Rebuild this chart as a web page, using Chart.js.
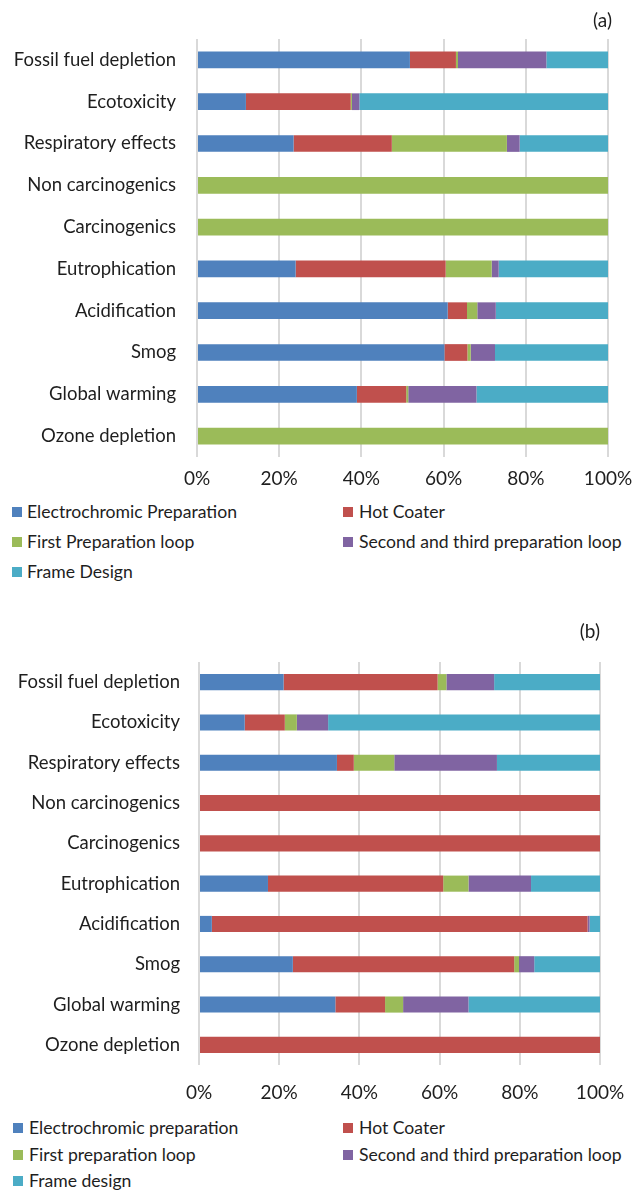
<!DOCTYPE html>
<html>
<head>
<meta charset="utf-8">
<title>Impact contribution by process stage</title>
<script src="https://cdn.jsdelivr.net/npm/chart.js@4.4.1/dist/chart.umd.min.js"></script>
<style>
    body {
        margin: 0;
        background: #fff;
        font-family: Lato, "Liberation Sans", sans-serif;
        color: #1e1e1e;
    }
    .page {
        position: relative;
        width: 633px;
        height: 1190px;
        overflow: hidden;
    }
    .panel {
        position: absolute;
        left: 0;
        width: 633px;
    }
    .panel-tag {
        position: absolute;
        font-size: 19px;
        line-height: 22px;
    }
    .legend-item {
        position: absolute;
        font-size: 17.6px;
        line-height: 22px;
        white-space: nowrap;
    }
    .legend-swatch {
        position: absolute;
        width: 10px;
        height: 10px;
        top: 6px;
    }
</style>
</head>
<body>
<div class="page" id="page">
    <div class="panel" style="top:0;height:495px"><canvas id="chartA"></canvas></div>
    <div class="panel" style="top:600px;height:500px"><canvas id="chartB"></canvas></div>
    <div class="panel-tag" style="top:9px;right:21px">(a)</div>
    <div class="panel-tag" style="top:620px;right:33px">(b)</div>
</div>

<script>
// Impact categories (top to bottom)
const impactCategories = [
    'Fossil fuel depletion',
    'Ecotoxicity',
    'Respiratory effects',
    'Non carcinogenics',
    'Carcinogenics',
    'Eutrophication',
    'Acidification',
    'Smog',
    'Global warming',
    'Ozone depletion'
];

// Process stage names, panel (a) and panel (b)
const stagesA = ['Electrochromic Preparation', 'Hot Coater', 'First Preparation loop',
    'Second and third preparation loop', 'Frame Design'];
const stagesB = ['Electrochromic preparation', 'Hot Coater', 'First preparation loop',
    'Second and third preparation loop', 'Frame design'];

// Panel (a) shares, % of each category
const electrochromicA = [51.8, 11.9, 23.5, 0, 0, 24.0, 61.0, 60.2, 38.9, 0];
const hotCoaterA      = [11.2, 25.5, 23.9, 0, 0, 36.5, 4.7, 5.6, 12.0, 0];
const firstLoopA      = [0.5, 0.3, 28.0, 100, 100, 11.2, 2.5, 0.8, 0.5, 100];
const secondThirdA    = [21.5, 1.8, 3.1, 0, 0, 1.7, 4.5, 5.9, 16.6, 0];
const frameA          = [15.0, 60.5, 21.5, 0, 0, 26.6, 27.3, 27.5, 32.0, 0];

// Panel (b) shares, % of each category
const electrochromicB = [21.1, 11.4, 34.4, 0, 0, 17.2, 3.2, 23.4, 34.0, 0];
const hotCoaterB      = [38.4, 10.0, 4.2, 100, 100, 43.7, 93.7, 55.2, 12.4, 100];
const firstLoopB      = [2.2, 3.0, 10.1, 0, 0, 6.3, 0, 1.2, 4.5, 0];
const secondThirdB    = [11.9, 7.8, 25.6, 0, 0, 15.6, 0.5, 3.8, 16.3, 0];
const frameB          = [26.4, 67.8, 25.7, 0, 0, 17.2, 2.6, 16.4, 32.8, 0];

// Percent axis ticks
const percentTicks = [0, 20, 40, 60, 80, 100];

const stageColors = ['#4f81bd', '#c0504d', '#9bbb59', '#8064a2', '#4bacc6'];
const textColor = '#1e1e1e';
const gridColor = '#d9d9d9';
const fontFamily = 'Lato, "Liberation Sans", sans-serif';

/**
 * Build one 100% stacked horizontal bar chart
 */
function makeStackedBar(canvasId, names, series, layout) {
    const ctx = document.getElementById(canvasId).getContext('2d');
    return new Chart(ctx, {
        type: 'bar',
        data: {
            labels: impactCategories,
            datasets: series.map((values, i) => ({
                label: names[i],
                data: values,
                backgroundColor: stageColors[i],
                borderWidth: 0,
                barPercentage: 0.4,
                categoryPercentage: 1
            }))
        },
        options: {
            indexAxis: 'y',
            responsive: true,
            maintainAspectRatio: false,
            animation: false,
            layout: {
                padding: { top: layout.top, right: layout.right, bottom: 0, left: 0 }
            },
            plugins: {
                legend: { display: false },
                tooltip: { enabled: false }
            },
            scales: {
                x: {
                    stacked: true,
                    min: 0,
                    max: 100,
                    afterBuildTicks: (scale) => {
                        scale.ticks = percentTicks.map(v => ({ value: v }));
                    },
                    afterFit: (scale) => {
                        // let the end labels hang into the outer padding
                        scale.height = layout.axisHeight;
                        scale.paddingLeft = 0;
                        scale.paddingRight = 0;
                    },
                    grid: { color: gridColor, lineWidth: 2, drawTicks: false },
                    border: { display: false },
                    ticks: {
                        padding: layout.xPad,
                        color: textColor,
                        font: { family: fontFamily, size: 19 },
                        callback: (v) => v + '%'
                    }
                },
                y: {
                    stacked: true,
                    afterFit: (scale) => { scale.width = layout.left; },
                    grid: { display: false, drawTicks: false },
                    border: { display: false },
                    ticks: {
                        padding: layout.yPad,
                        color: textColor,
                        font: { family: fontFamily, size: 18.5 }
                    }
                }
            }
        }
    });
}

/**
 * Two-column legend under a chart
 */
function addLegend(names, top, rowGap, swatchX, textX) {
    const page = document.getElementById('page');
    names.forEach((name, i) => {
        const col = i % 2;
        const row = Math.floor(i / 2);
        const item = document.createElement('div');
        item.className = 'legend-item';
        item.style.top = (top + row * rowGap) + 'px';
        item.style.left = textX[col] + 'px';
        item.textContent = name;
        const swatch = document.createElement('span');
        swatch.className = 'legend-swatch';
        swatch.style.left = (swatchX[col] - textX[col]) + 'px';
        swatch.style.background = stageColors[i];
        item.appendChild(swatch);
        page.appendChild(item);
    });
}

makeStackedBar('chartA', stagesA,
    [electrochromicA, hotCoaterA, firstLoopA, secondThirdA, frameA],
    { top: 39, right: 25, left: 197, axisHeight: 38, xPad: 10, yPad: 21 });

makeStackedBar('chartB', stagesB,
    [electrochromicB, hotCoaterB, firstLoopB, secondThirdB, frameB],
    { top: 62, right: 33, left: 199, axisHeight: 35, xPad: 16, yPad: 19 });

addLegend(stagesA, 501, 30, [12, 343], [27, 359]);
addLegend(stagesB, 1117, 26.5, [13, 343], [29, 359]);
</script>
</body>
</html>
